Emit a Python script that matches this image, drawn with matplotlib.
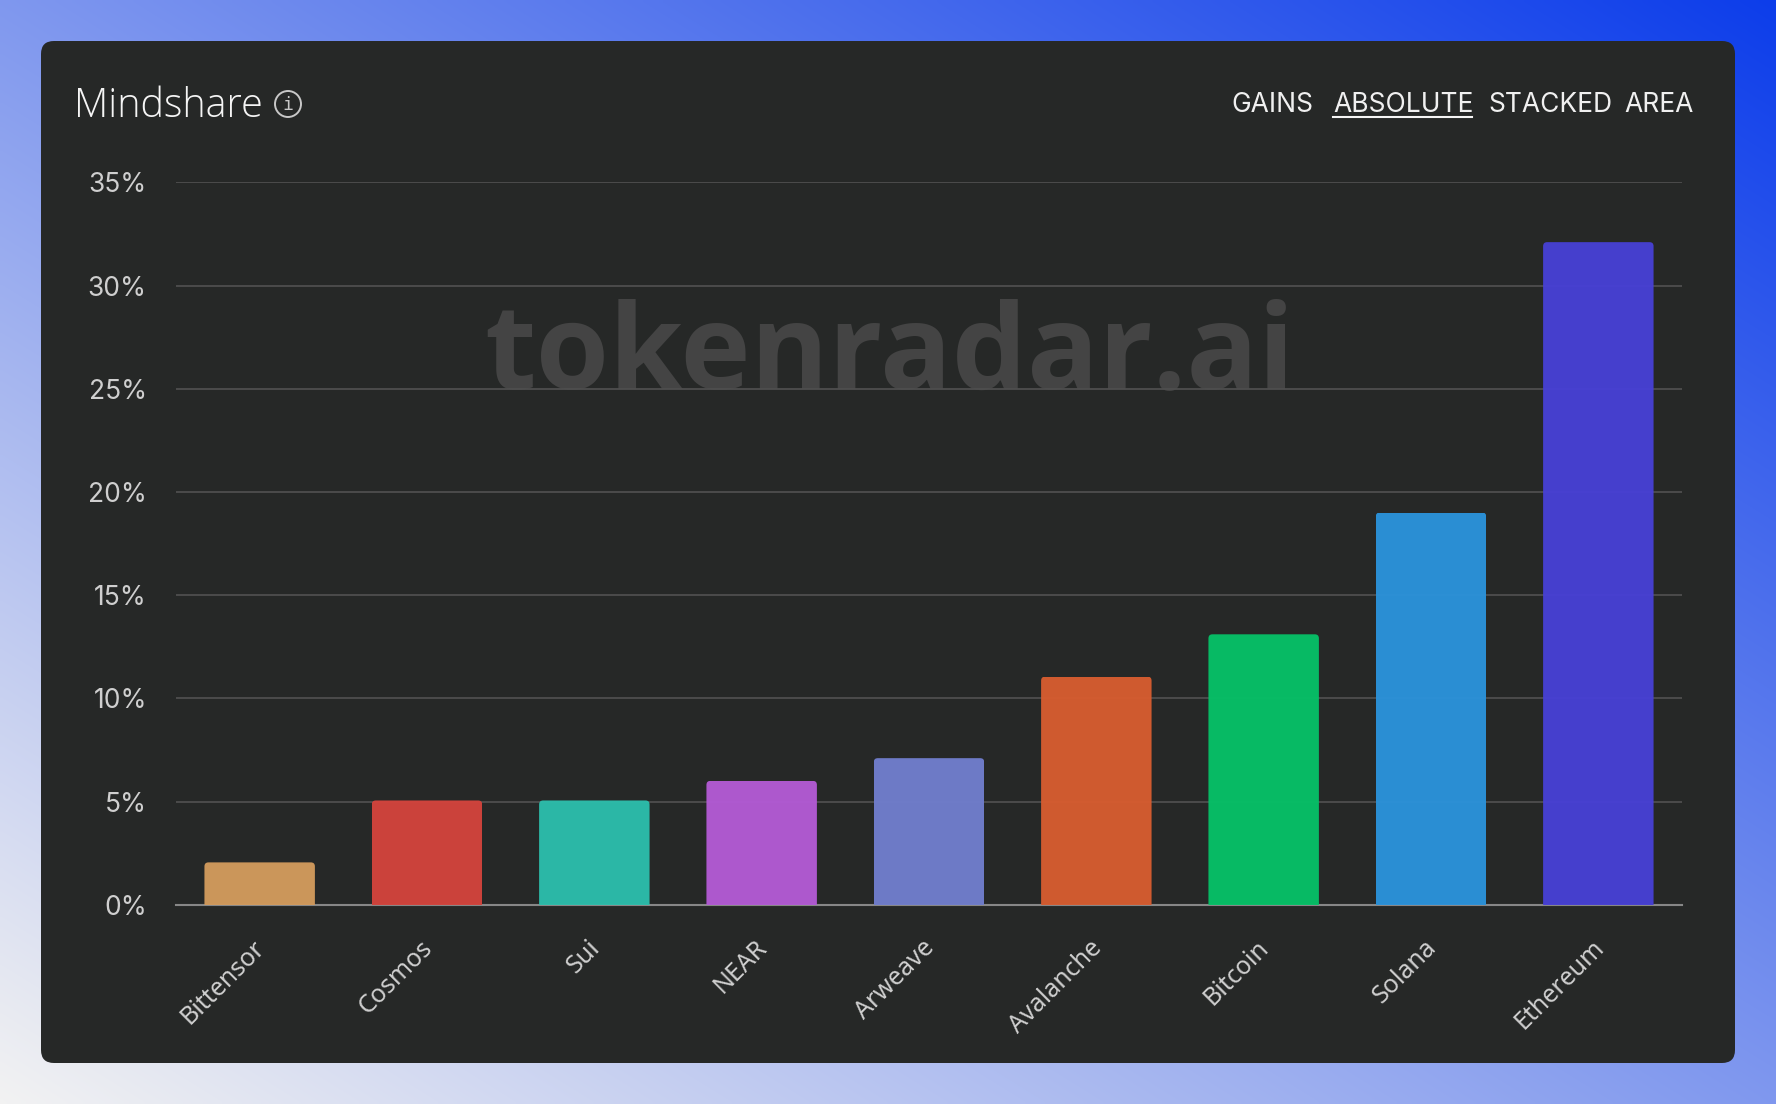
import numpy as np
import matplotlib
matplotlib.use("Agg")
import matplotlib.pyplot as plt
from matplotlib.patches import FancyBboxPatch, Circle
from matplotlib.transforms import IdentityTransform, ScaledTranslation

names = ["Bittensor", "Cosmos", "Sui", "NEAR", "Arweave", "Avalanche", "Bitcoin", "Solana", "Ethereum"]
share = [2.05, 5.05, 5.05, 6.0, 7.1, 11.05, 13.1, 19.0, 32.1]
colors = ["#D29A5C", "#D2433C", "#2CBDAB", "#B25AD4", "#707DCC", "#D65C30", "#06C067", "#2B92DA", "#4740D4"]
yticks = [0, 5, 10, 15, 20, 25, 30, 35]
modes = ["GAINS", "ABSOLUTE", "STACKED", "AREA"]
mode_x = [1231, 1333, 1488, 1624]

W, H = 1776, 1104
plt.rcParams["font.family"] = ["Noto Sans", "DejaVu Sans"]
fig = plt.figure(figsize=(W / 100, H / 100), dpi=100)

# background + card, in pixel coords
bg = fig.add_axes([0, 0, 1, 1], zorder=0)
bg.set_xlim(0, W)
bg.set_ylim(H, 0)
bg.axis("off")
xx, yy = np.meshgrid(np.linspace(0, 1, 444), np.linspace(0, 1, 276))
t = (0.5 * (xx + 1 - yy))[..., None]
grad = (1 - t) * np.array([0.95, 0.95, 0.95]) + t * np.array([0.05, 0.24, 0.92])
bg.imshow(grad, extent=[0, W, H, 0], aspect="auto", interpolation="bilinear")
bg.set_xlim(0, W)
bg.set_ylim(H, 0)
bg.add_patch(FancyBboxPatch((41, 41), 1694, 1022, boxstyle="round,pad=0,rounding_size=13",
                            fc="#262827", ec="none"))

bg.text(484, 389, "tokenradar.ai", fontsize=85.5, fontweight="bold", color="#444444", ha="left", va="baseline",
        family="Open Sans")
bg.text(74, 117, "Mindshare", fontsize=28.5, color="#f5f5f5", ha="left", va="baseline", family="Open Sans",
        fontweight="light")
bg.add_patch(Circle((288, 104), 13, fc="none", ec="#c8c8c8", lw=1.4))
bg.text(288, 105, "i", fontsize=13, color="#c8c8c8", ha="center", va="center", family="DejaVu Sans Mono")

for m, x in zip(modes, mode_x):
    bg.text(x, 112, m, fontsize=19, color="#f0f0f0", ha="left", va="baseline", family="Inter")
bg.plot([1333, 1472], [117, 117], color="#f5f5f5", lw=1.5)

# the chart
ax = fig.add_axes([176 / W, 1 - 904.7 / H, (1682 - 176) / W, (904.7 - 182.3) / H], zorder=1)
ax.patch.set_alpha(0)
x = np.arange(len(names))
bars = ax.bar(x, share, width=0.66, color=colors, alpha=0.97, zorder=3)
ax.set_xlim(-0.5, 8.5)
ax.set_ylim(0, 35)
ax.set_yticks(yticks)
ax.set_yticklabels([f"{v}%" for v in yticks], fontsize=19, color="#cfcfcf", family="Inter")
ax.set_xticks(x)
ax.set_xticklabels(names, fontsize=18, color="#cfcfcf", rotation=45, ha="right", rotation_mode="anchor")
ax.tick_params(axis="y", length=0, pad=21)
ax.tick_params(axis="x", length=0, pad=22)
ax.grid(axis="y", color="#4e4e4e", lw=1.3, zorder=1)
ax.set_axisbelow(True)
for s in ["top", "left", "right"]:
    ax.spines[s].set_visible(False)
ax.spines["bottom"].set_color("#878787")
ax.spines["bottom"].set_linewidth(1.5)

shift = ScaledTranslation(-0.07, 0, fig.dpi_scale_trans)
for lab in ax.get_xticklabels():
    lab.set_transform(lab.get_transform() + shift)

# rounded top corners on the bars
fig.canvas.draw()
for b in bars:
    (x0, y0), (x1, y1) = ax.transData.transform([(b.get_x(), 0), (b.get_x() + b.get_width(), b.get_height())])
    clip = FancyBboxPatch((x0, y0 - 20), x1 - x0, y1 - y0 + 20, boxstyle="round,pad=0,rounding_size=4",
                          transform=IdentityTransform())
    b.set_clip_path(clip)

fig.savefig("out.png", dpi=100)
